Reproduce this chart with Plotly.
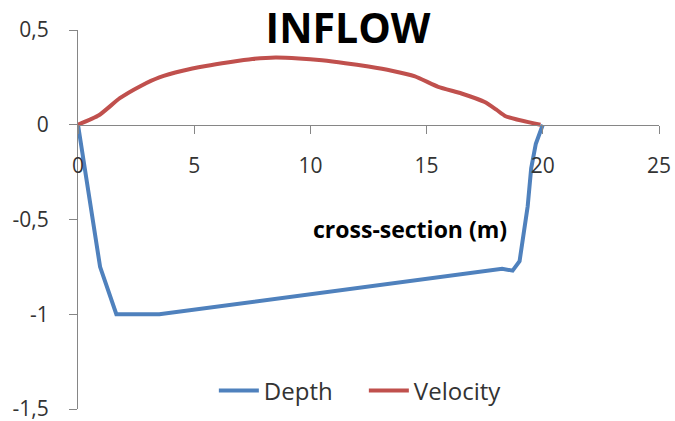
import plotly.graph_objects as go

# Data
depth_x = [0, 0.95, 1.65, 3.5, 18.25, 18.7, 19.0, 19.2, 19.35, 19.5, 19.7, 20.0]
depth_y = [0, -0.75, -1.0, -1.0, -0.76, -0.77, -0.72, -0.57, -0.43, -0.23, -0.1, 0]

vel_x = [0, 0.9, 1.8, 2.7, 3.5, 4.5, 5.5, 6.5, 7.5, 8.5, 9.5, 10.5, 11.5, 12.5,
         13.5, 14.5, 15.5, 16.5, 17.5, 18.0, 18.4, 19.9]
vel_y = [0, 0.05, 0.14, 0.205, 0.25, 0.285, 0.31, 0.33, 0.347, 0.355, 0.35, 0.34,
         0.325, 0.307, 0.285, 0.255, 0.2, 0.165, 0.12, 0.08, 0.045, 0]

x_ticks = [0, 5, 10, 15, 20, 25]
x_tick_labels = ["0", "5", "10", "15", "20", "25"]
y_ticks = [-1.5, -1, -0.5, 0, 0.5]
y_tick_labels = ["-1,5", "-1", "-0,5", "0", "0,5"]

FONT = "Open Sans"
AXIS_COLOR = "#868686"
TEXT_COLOR = "#333333"

fig = go.Figure()
fig.add_trace(go.Scatter(x=depth_x, y=depth_y, mode="lines", name="Depth",
                         line=dict(color="#4F81BD", width=4)))
fig.add_trace(go.Scatter(x=vel_x, y=vel_y, mode="lines", name="Velocity",
                         line=dict(color="#C0504D", width=4, shape="spline", smoothing=0.5)))

fig.update_layout(
    width=675, height=421,
    margin=dict(l=78, r=16, t=30, b=12, autoexpand=False),
    paper_bgcolor="white", plot_bgcolor="white",
    separators=",.",
    title=dict(text="<b>INFLOW</b>", x=348 / 675, xanchor="center",
               y=1 - 28.5 / 421, yanchor="middle",
               font=dict(family=FONT, size=41, color="#000000")),
    legend=dict(orientation="h", x=0.492, xanchor="center", y=0.0475, yanchor="middle",
                font=dict(family=FONT, size=24, color=TEXT_COLOR),
                bgcolor="rgba(0,0,0,0)", itemwidth=40,
                entrywidth=95, entrywidthmode="pixels"),
    showlegend=True,
)

fig.update_xaxes(
    range=[0, 25], tickvals=x_ticks, ticktext=x_tick_labels,
    anchor="free", position=0.75, automargin=False,
    showline=True, linecolor=AXIS_COLOR, linewidth=1,
    ticks="outside", ticklen=8, tickcolor=AXIS_COLOR,
    showgrid=False, zeroline=False,
    ticklabelstandoff=14, ticklabeloverflow="allow",
    tickfont=dict(family=FONT, size=21, color=TEXT_COLOR),
)
fig.update_yaxes(
    range=[-1.5, 0.5], tickvals=y_ticks, ticktext=y_tick_labels,
    automargin=False,
    showline=True, linecolor=AXIS_COLOR, linewidth=1,
    ticks="outside", ticklen=8, tickcolor=AXIS_COLOR,
    showgrid=False, zeroline=False,
    ticklabelstandoff=16, ticklabeloverflow="allow",
    tickfont=dict(family=FONT, size=21, color=TEXT_COLOR),
)

fig.add_annotation(text="<b>cross-section (m)</b>", x=14.3, y=-0.549, xref="x", yref="y",
                   showarrow=False, xanchor="center", yanchor="middle",
                   font=dict(family=FONT, size=23, color="#000000"))

fig.write_html("out.html")
